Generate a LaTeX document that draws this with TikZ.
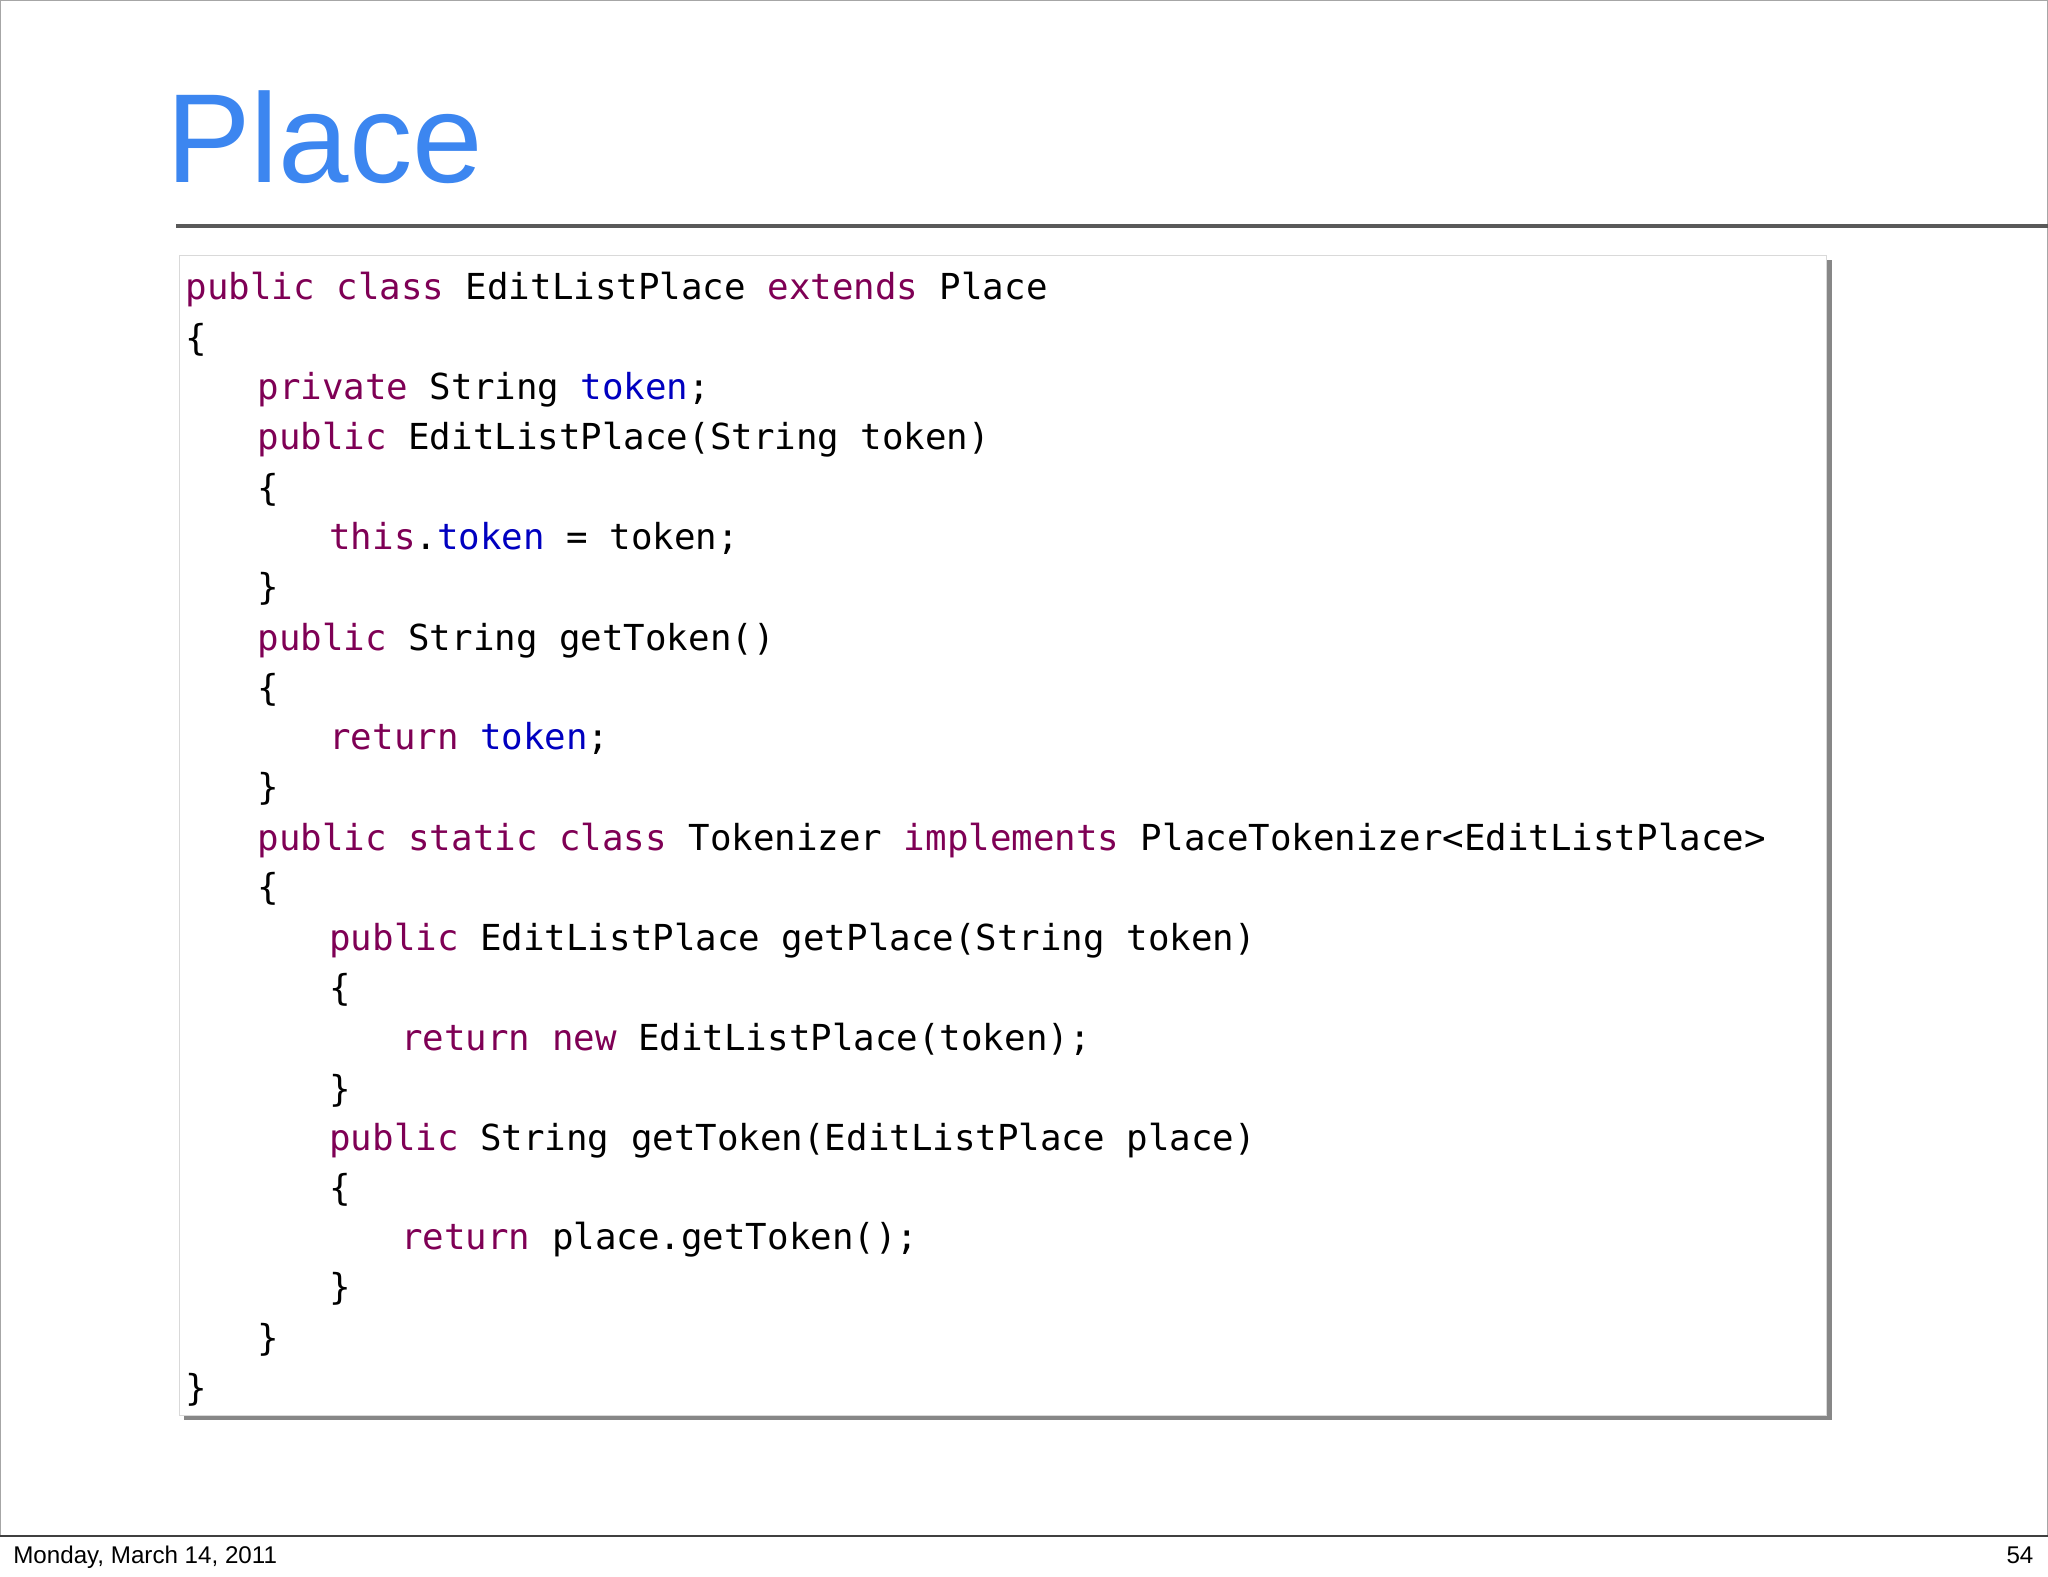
\documentclass[tikz,border=0pt]{standalone}
\usepackage{fontspec}
\setmainfont{Liberation Sans}
\newfontfamily\codefont{DejaVu Sans Mono}
\usetikzlibrary{shadows}
\definecolor{kw}{HTML}{7F0055}
\definecolor{fld}{HTML}{0000C0}
\definecolor{ttl}{HTML}{3C86F0}
\newcommand{\K}[1]{\textcolor{kw}{#1}}
\newcommand{\F}[1]{\textcolor{fld}{#1}}
\begin{document}
\begin{tikzpicture}[x=1pt,y=-1pt,
  codeline/.style={anchor=base west,inner sep=0pt,font=\codefont\fontsize{27.4}{30}\selectfont}]
\useasboundingbox (0,0) rectangle (1568,1207);
\fill[white] (0,0) rectangle (1568,1207);
\draw[gray!70,line width=1pt] (0.5,0) -- (0.5,1176);
\draw[gray!70,line width=1pt] (1567.5,0) -- (1567.5,1176);
\draw[gray!70,line width=1pt] (0,0.5) -- (1568,0.5);
\draw[black!75,line width=2pt] (0,1176) -- (1568,1176);
\node[anchor=base west,inner sep=0pt,text=ttl,font=\fontsize{97}{100}\selectfont] (title) at (127,140) {Place};
\draw[black!65,line width=2.5pt] (135,173) -- (1568,173);
\node[draw=black!15,line width=0.5pt,fill=white,minimum width=1261pt,minimum height=888pt,anchor=north west,inner sep=0pt,
  drop shadow={shadow xshift=4pt,shadow yshift=-4pt,opacity=0.85,fill=black!55}] (box) at (137,195) {};
\foreach \lvl/\y/\t in {
 0/229/{\K{public class} EditListPlace \K{extends} Place},
 0/268/{\{},
 1/306/{\K{private} String \F{token};},
 1/344/{\K{public} EditListPlace(String token)},
 1/383/{\{},
 2/421/{\K{this}.\F{token} = token;},
 1/459/{\}},
 1/498/{\K{public} String getToken()},
 1/536/{\{},
 2/574/{\K{return} \F{token};},
 1/612/{\}},
 1/651/{\K{public static class} Tokenizer \K{implements} PlaceTokenizer<EditListPlace>},
 1/689/{\{},
 2/728/{\K{public} EditListPlace getPlace(String token)},
 2/766/{\{},
 3/804/{\K{return new} EditListPlace(token);},
 2/843/{\}},
 2/881/{\K{public} String getToken(EditListPlace place)},
 2/919/{\{},
 3/957/{\K{return} place.getToken();},
 2/995/{\}},
 1/1034/{\}},
 0/1072/{\}}}
 { \node[codeline] (l\y) at (142+55*\lvl,\y) {\t}; }
\node[anchor=base west,inner sep=0pt,font=\fontsize{18.5}{20}\selectfont] (date) at (10,1197) {Monday, March 14, 2011};
\node[anchor=base east,inner sep=0pt,font=\fontsize{18.5}{20}\selectfont] (page) at (1557,1197) {54};
\end{tikzpicture}
\end{document}
